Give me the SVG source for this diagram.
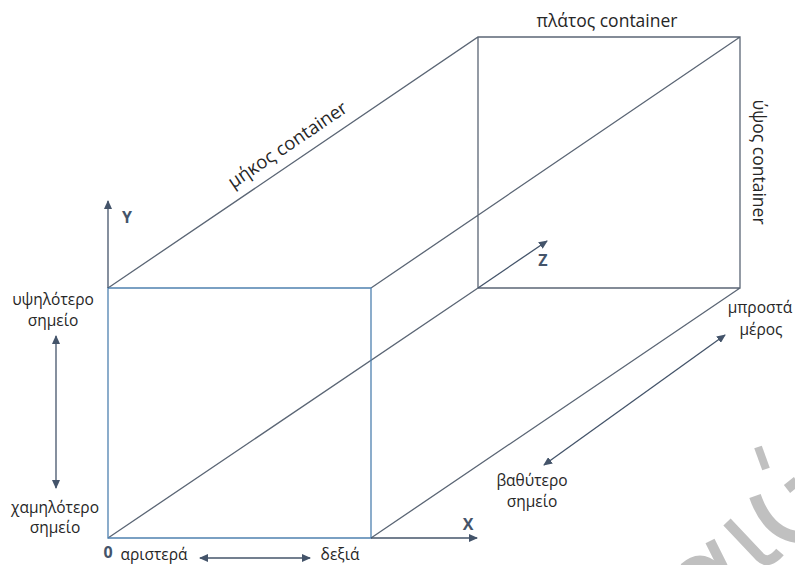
<svg xmlns="http://www.w3.org/2000/svg" width="795" height="565" viewBox="0 0 795 565">
<style>
text{font-family:"Open Sans","Noto Sans","DejaVu Sans",sans-serif;fill:#262626;font-size:15.5px;text-anchor:middle}
.b{font-weight:700;fill:#44546a;font-size:16px}
.c{font-size:17.5px}
.l{font-size:18.5px}
.e{fill:none;stroke:#5b6675;stroke-width:1.3}
.f{fill:none;stroke:#4f81b0;stroke-width:1.3}
.a{fill:none;stroke:#44546a;stroke-width:1.3}
.w{fill:none;stroke:#c0c0c0}
</style>
<defs>
<marker id="h" markerWidth="9" markerHeight="8" refX="8" refY="4" orient="auto-start-reverse" markerUnits="userSpaceOnUse"><path d="M0 0L9 4L0 8Z" fill="#44546a"/></marker>
</defs>
<rect width="795" height="565" fill="#fff"/>
<g id="watermark">
<path class="w" stroke-width="8" d="M758 447L766 469"/>
<path class="w" stroke-width="12" d="M755 496C762 516 775 534 797 537"/>
<path class="w" stroke-width="10" d="M727 522L760 557C766 563 773 560 780 552"/>
<path class="w" stroke-width="10" d="M710 541L723 567"/>
<path class="w" stroke-width="10" d="M684 568C695 558 705 558 716 568"/>
<path class="w" stroke-width="10" d="M787 489L797 481"/>
</g>
<g id="connectors">
<path class="e" d="M108 288L478 37H740V288H478V37M108 538L478 288M371 538L740 288M371 288L740 37"/>
<path class="f" d="M108 288H371V538H108Z"/>
<path class="a" d="M108 288V201" marker-end="url(#h)"/>
<path class="a" d="M371 538H477" marker-end="url(#h)"/>
<path class="a" d="M478 288L547 241" marker-end="url(#h)"/>
<path class="a" d="M56 336V488" marker-start="url(#h)" marker-end="url(#h)"/>
<path class="a" d="M200 558H310" marker-start="url(#h)" marker-end="url(#h)"/>
<path class="a" d="M544 465L725 335" marker-start="url(#h)" marker-end="url(#h)"/>
</g>
<g id="label-y"><text class="b" x="127" y="223">Y</text></g>
<g id="label-x"><text class="b" x="468" y="530">X</text></g>
<g id="label-z"><text class="b" x="543" y="266">Z</text></g>
<g id="label-0"><text class="b" x="108" y="558">0</text></g>
<g id="label-length"><text class="l" transform="translate(291 150) rotate(-34)">μήκος container</text></g>
<g id="label-width"><text class="c" x="607" y="27">πλάτος container</text></g>
<g id="label-height"><text class="c" transform="translate(753 162) rotate(90)">ύψος container</text></g>
<g id="label-high"><text x="53" y="305">υψηλότερο</text><text x="53" y="326">σημείο</text></g>
<g id="label-low"><text x="55" y="513">χαμηλότερο</text><text x="55" y="533">σημείο</text></g>
<g id="label-left"><text x="154" y="560">αριστερά</text></g>
<g id="label-right"><text x="340" y="560">δεξιά</text></g>
<g id="label-front"><text x="760" y="313">μπροστά</text><text x="761" y="335">μέρος</text></g>
<g id="label-deep"><text x="532" y="486">βαθύτερο</text><text x="532" y="507">σημείο</text></g>
</svg>
